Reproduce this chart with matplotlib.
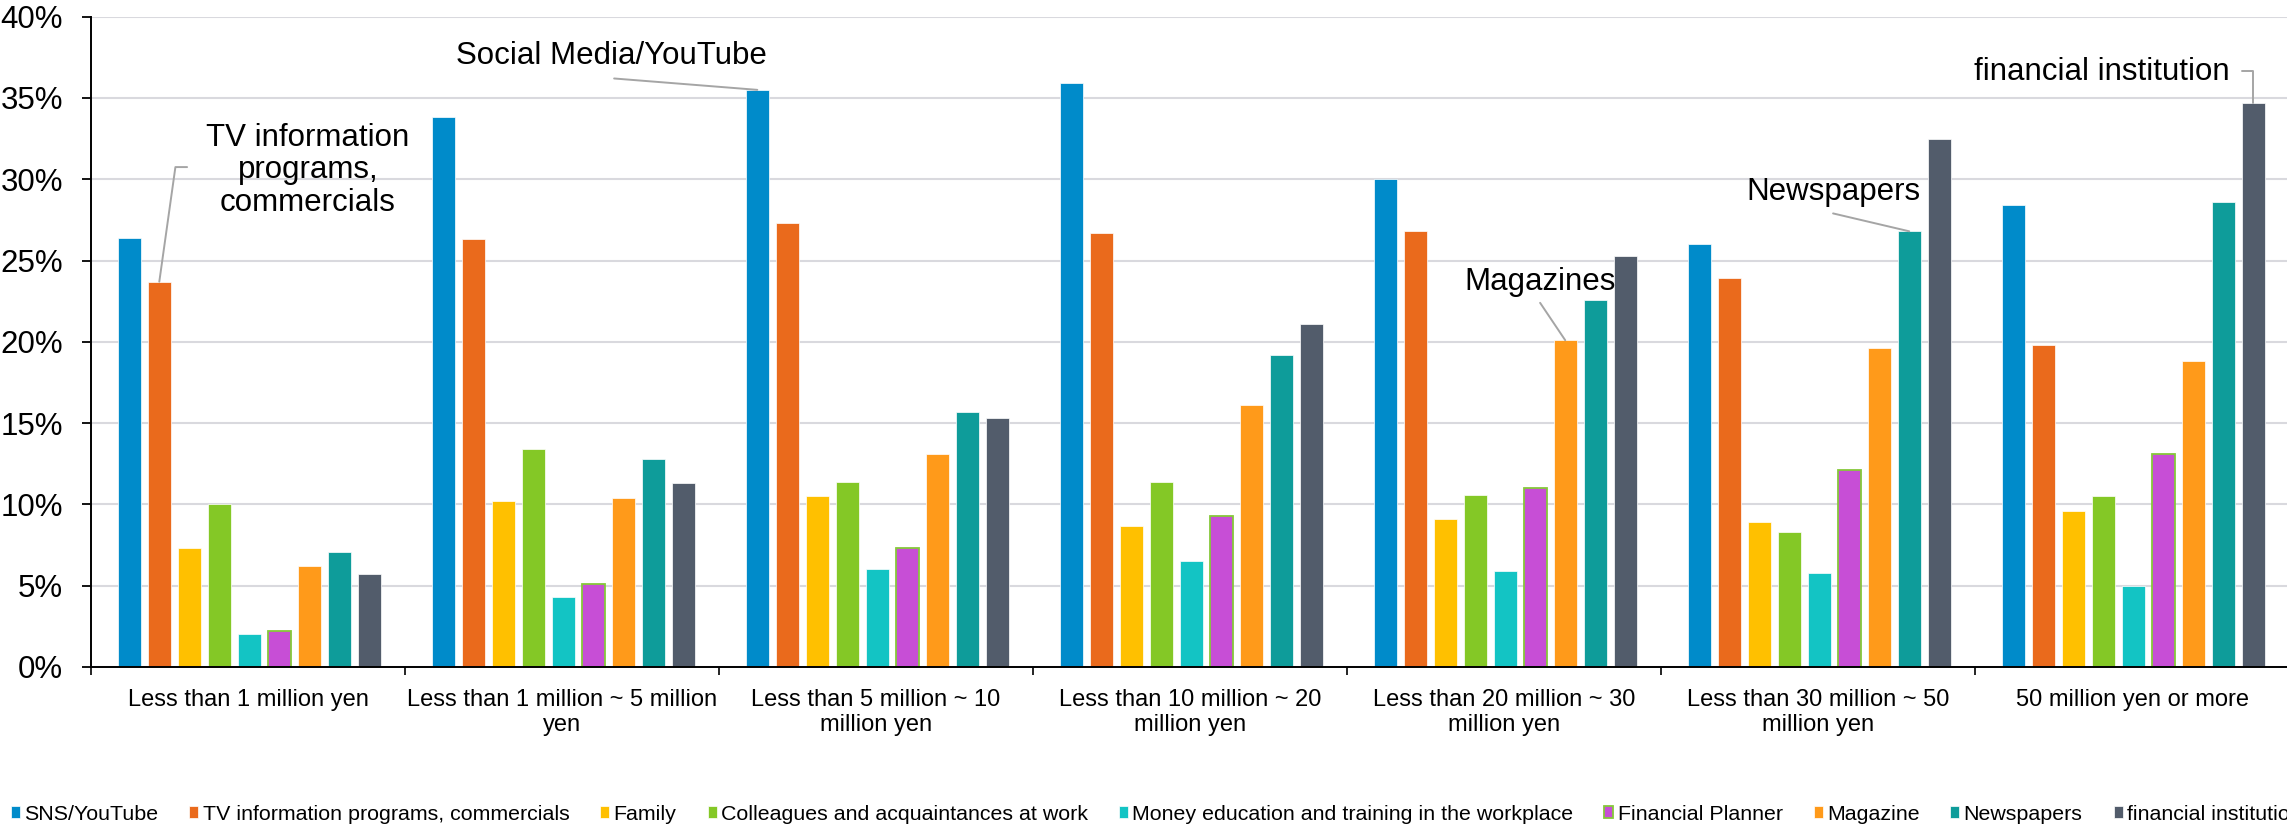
import matplotlib
matplotlib.use("Agg")
import matplotlib.pyplot as plt
from matplotlib.ticker import FixedLocator, FuncFormatter
import numpy as np

plt.rcParams["font.family"] = ["Liberation Sans", "DejaVu Sans"]

# ---- data (percent of respondents) ----
categories = [
    "Less than 1 million yen",
    "Less than 1 million ~ 5 million\nyen",
    "Less than 5 million ~ 10\nmillion yen",
    "Less than 10 million ~ 20\nmillion yen",
    "Less than 20 million ~ 30\nmillion yen",
    "Less than 30 million ~ 50\nmillion yen",
    "50 million yen or more",
]
series_names = [
    "SNS/YouTube",
    "TV information programs, commercials",
    "Family",
    "Colleagues and acquaintances at work",
    "Money education and training in the workplace",
    "Financial Planner",
    "Magazine",
    "Newspapers",
    "financial institution",
]
sns_youtube = [26.4, 33.8, 35.5, 35.9, 30.0, 26.0, 28.4]
tv_programs = [23.7, 26.3, 27.3, 26.7, 26.8, 23.9, 19.8]
family = [7.3, 10.2, 10.5, 8.7, 9.1, 8.9, 9.6]
colleagues = [10.0, 13.4, 11.4, 11.4, 10.6, 8.3, 10.5]
money_education = [2.0, 4.3, 6.0, 6.5, 5.9, 5.8, 5.0]
financial_planner = [2.2, 5.1, 7.3, 9.3, 11.0, 12.1, 13.1]
magazine = [6.2, 10.4, 13.1, 16.1, 20.1, 19.6, 18.8]
newspapers = [7.1, 12.8, 15.7, 19.2, 22.6, 26.8, 28.6]
financial_institution = [5.7, 11.3, 15.3, 21.1, 25.3, 32.5, 34.7]

series_values = [sns_youtube, tv_programs, family, colleagues, money_education,
                 financial_planner, magazine, newspapers, financial_institution]
colors = ["#008BCA", "#EA6A1C", "#FFC000", "#84C826", "#13C4C4",
          "#C74ED6", "#FF9A1A", "#0E9C9A", "#525C6B"]
edges = ["white"] * 9
edges[5] = "#86C83A"
edge_widths = [0.5] * 9
edge_widths[5] = 1.3

# ---- figure ----
W, H = 2287, 826
fig = plt.figure(figsize=(W / 100, H / 100), dpi=100)
ax = fig.add_axes([91 / W, 1 - 667 / H, 7 * 314 / W, (667 - 16.7) / H])

x = np.arange(len(categories))
pitch = 0.0955
width = 0.0735
bars = []
for j, (vals, col, ec, lw, name) in enumerate(
        zip(series_values, colors, edges, edge_widths, series_names)):
    b = ax.bar(x + (j - 4) * pitch + 0.004, vals, width=width, color=col,
               edgecolor=ec, linewidth=lw, label=name, zorder=3)
    bars.append(b)

ax.set_xlim(-0.5, len(categories) - 0.5)
ax.set_ylim(0, 40)
ax.set_yticks(np.arange(0, 41, 5))
ax.yaxis.set_major_formatter(FuncFormatter(lambda v, _: f"{v:.0f}%"))
ax.yaxis.grid(True, color="#D9D9DE", linewidth=1.5, zorder=0)
ax.set_axisbelow(True)

ax.set_xticks(x)
ax.set_xticklabels(categories, fontsize=17, linespacing=1.22)
ax.xaxis.set_minor_locator(FixedLocator(np.arange(-0.5, len(categories), 1.0)))
ax.tick_params(axis="x", which="major", length=0, pad=15.5)
ax.tick_params(axis="x", which="minor", length=5.5, width=1.2, direction="out")
ax.tick_params(axis="y", length=6.5, width=1.3, direction="out", pad=13.5,
               labelsize=22.5)

for side in ("top", "right"):
    ax.spines[side].set_visible(False)
for side in ("left", "bottom"):
    ax.spines[side].set_linewidth(1.4)
    ax.spines[side].set_color("black")
ax.spines["bottom"].set_zorder(4)

# ---- callout labels with leader lines ----
def bar_top(series_idx, group_idx):
    rect = bars[series_idx][group_idx]
    return rect.get_x() + rect.get_width() / 2, rect.get_height()

lead = dict(arrowstyle="-", color="#A5A5A5", lw=1.4, shrinkA=0, shrinkB=0)
callout_font = 22.5

# TV information programs, commercials
ax.text(0.191, 30.55, "TV information\nprograms,\ncommercials", ha="center",
        va="center", fontsize=callout_font, linespacing=1.12, zorder=5)
ax.annotate("", xy=bar_top(1, 0), xytext=(-0.194, 30.75),
            arrowprops=dict(lead, connectionstyle="angle,angleA=180,angleB=82,rad=0"),
            zorder=5)

# Social Media/YouTube
ax.text(1.159, 37.6, "Social Media/YouTube", ha="center", va="center",
        fontsize=callout_font, zorder=5)
ax.annotate("", xy=bar_top(0, 2), xytext=(1.166, 36.2), arrowprops=lead, zorder=5)

# Magazines
ax.text(4.115, 23.7, "Magazines", ha="center", va="center",
        fontsize=callout_font, zorder=5)
ax.annotate("", xy=bar_top(6, 4), xytext=(4.115, 22.4), arrowprops=lead, zorder=5)

# Newspapers
ax.text(5.048, 29.2, "Newspapers", ha="center", va="center",
        fontsize=callout_font, zorder=5)
ax.annotate("", xy=bar_top(7, 5), xytext=(5.048, 27.9), arrowprops=lead, zorder=5)

# financial institution
ax.text(5.904, 36.6, "financial institution", ha="center", va="center",
        fontsize=callout_font, zorder=5)
ax.annotate("", xy=bar_top(8, 6), xytext=(6.35, 36.65),
            arrowprops=dict(lead, connectionstyle="angle,angleA=0,angleB=90,rad=0"),
            zorder=5)

# ---- legend along the bottom edge ----
fig.legend(handles=[b for b in bars], labels=series_names,
           loc="center left", bbox_to_anchor=(11 / W, 12 / H), ncol=9,
           frameon=False, fontsize=15.4, handlelength=0.42, handleheight=0.47,
           handletextpad=0.2, columnspacing=1.45, borderpad=0, borderaxespad=0)

fig.savefig("out.png", dpi=100)
